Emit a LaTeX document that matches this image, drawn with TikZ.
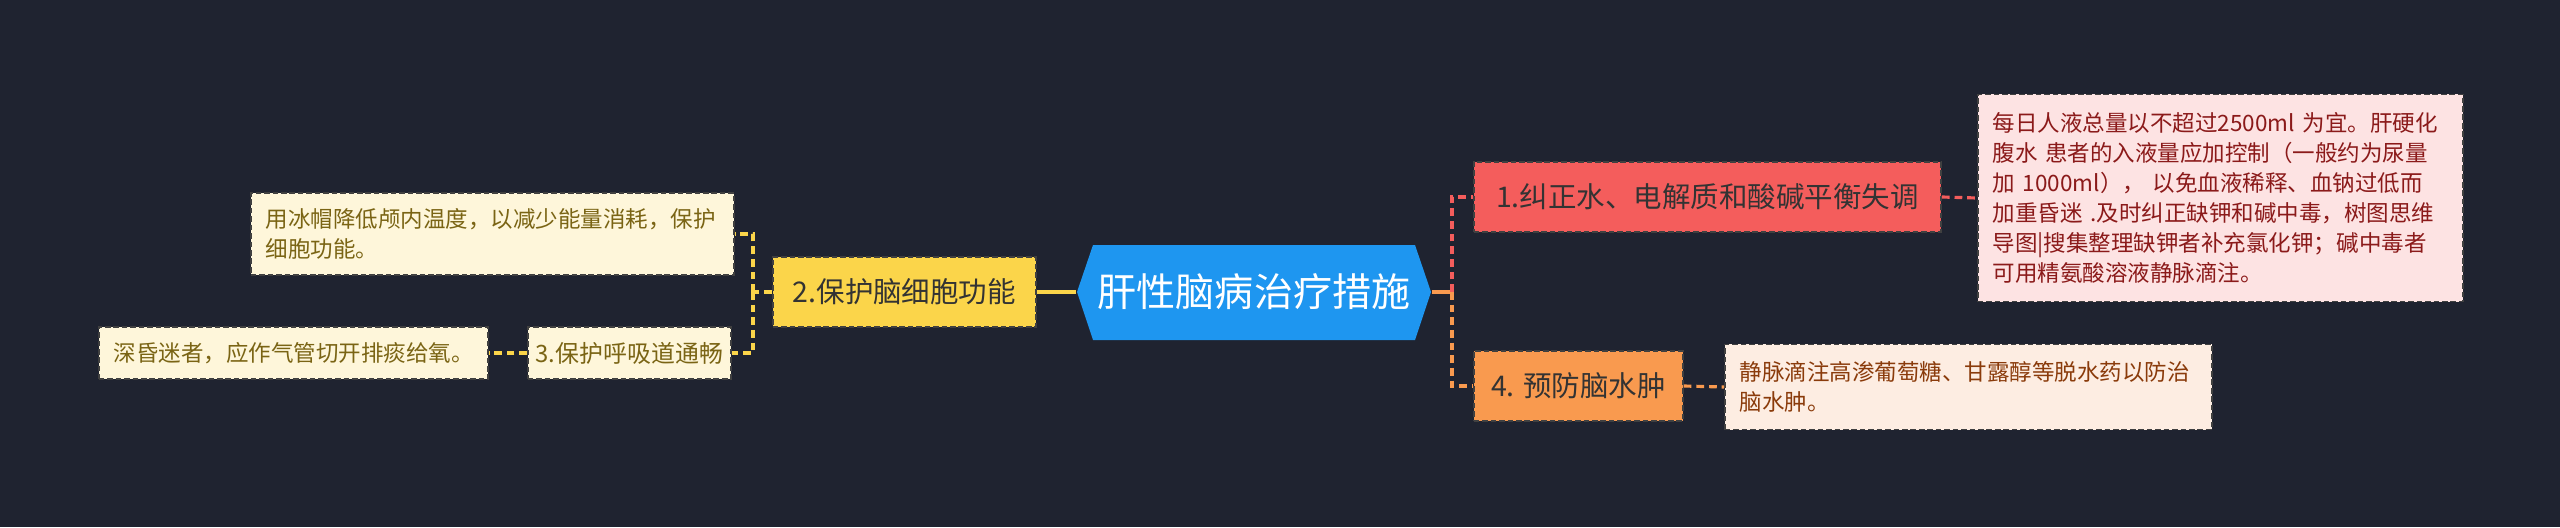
\documentclass[tikz,border=0pt]{standalone}
\usepackage{fontspec}
\setmainfont{Noto Sans CJK SC}
\definecolor{bgdark}{HTML}{1F2330}
\definecolor{hubblue}{HTML}{1E96F0}
\definecolor{redfill}{HTML}{F45D5C}
\definecolor{orangefill}{HTML}{F99A4F}
\definecolor{yellowfill}{HTML}{FBD54A}
\definecolor{pinkleaf}{HTML}{FDE3E3}
\definecolor{peachleaf}{HTML}{FDEDE2}
\definecolor{creamleaf}{HTML}{FEF6DA}
\definecolor{redtext}{HTML}{8B1A1A}
\definecolor{browntext}{HTML}{8A3B0B}
\definecolor{olivetext}{HTML}{7A6414}
\definecolor{darktext}{HTML}{333333}
\begin{document}
\begin{tikzpicture}[x=0.01cm, y=-0.01cm,
    hub node/.style={text=white, font=\fontsize{11.1}{13}\selectfont, minimum width=3.54cm, minimum height=0.95cm, inner sep=0pt},
    topic node/.style={draw=black!75, dash pattern=on 1.6pt off 0.8pt, line width=0.45pt, text=darktext, font=\fontsize{8.1}{10}\selectfont, anchor=west, minimum height=0.70cm, inner sep=0pt},
    leaf node/.style={draw=black!75, dash pattern=on 1.6pt off 0.8pt, line width=0.45pt, font=\fontsize{6.4}{8.5}\selectfont, anchor=west, align=left, inner xsep=0.15cm, inner ysep=0pt},
    link/.style={line width=0.9pt},
    dash link/.style={line width=0.9pt, dash pattern=on 2.2pt off 1.4pt} ]
    \fill [bgdark] (0,0) rectangle (2560,527);
    \useasboundingbox (0,0) rectangle (2560,527);
    % hexagon behind the title
    \fill [hubblue] (1077,292) -- (1093,245) -- (1415,245) -- (1431,292) -- (1415,340) -- (1093,340) -- cycle;
    \node at (1254,292) [hub node] (hub) {肝性脑病治疗措施};
    % right side
    \node at (1473,197) [topic node, fill=redfill, minimum width=4.67cm] (n1) {1.纠正水、电解质和酸碱平衡失调};
    \node at (1473,386) [topic node, fill=orangefill, minimum width=2.09cm] (n4) {4. 预防脑水肿};
    \node at (1977,198) [leaf node, fill=pinkleaf, text=redtext, text width=4.55cm, minimum height=2.07cm] (leaf1) {每日人液总量以不超过2500ml 为宜。肝硬化\\腹水 患者的入液量应加控制（一般约为尿量\\加 1000ml）， 以免血液稀释、血钠过低而\\加重昏迷 .及时纠正缺钾和碱中毒，树图思维\\导图|搜集整理缺钾者补充氯化钾；碱中毒者\\可用精氨酸溶液静脉滴注。};
    \node at (1724,387) [leaf node, fill=peachleaf, text=browntext, text width=4.57cm, minimum height=0.85cm] (leaf4) {静脉滴注高渗葡萄糖、甘露醇等脱水药以防治\\脑水肿。};
    % left side
    \node at (772,292) [topic node, fill=yellowfill, minimum width=2.63cm] (n2) {2.保护脑细胞功能};
    \node at (527,353) [topic node, fill=creamleaf, text=olivetext, font=\fontsize{6.8}{9}\selectfont, minimum width=2.03cm, minimum height=0.52cm] (n3) {3.保护呼吸道通畅};
    \node at (250,234) [leaf node, fill=creamleaf, text=olivetext, text width=4.53cm, minimum height=0.82cm] (leafA) {用冰帽降低颅内温度，以减少能量消耗，保护\\细胞功能。};
    \node at (98,353) [leaf node, fill=creamleaf, text=olivetext, text width=3.59cm, minimum height=0.52cm] (leafB) {深昏迷者，应作气管切开排痰给氧。};
    \coordinate (rj) at (1452,292);
    \coordinate (lj) at (753,292);
    \draw [link, orangefill] (hub.east) -- (rj);
    \draw [dash link, redfill] (rj) |- (n1.west);
    \draw [dash link, orangefill] (rj) |- (n4.west);
    \draw [dash link, redfill] (n1.east) -- (leaf1.west);
    \draw [dash link, orangefill] (n4.east) -- (leaf4.west);
    \draw [link, yellowfill] (hub.west) -- (n2.east);
    \draw [dash link, yellowfill] (n2.west) -- (lj);
    \draw [dash link, yellowfill] (lj) |- (leafA.east);
    \draw [dash link, yellowfill] (lj) |- (n3.east);
    \draw [dash link, yellowfill] (n3.west) -- (leafB.east);
\end{tikzpicture}
\end{document}
